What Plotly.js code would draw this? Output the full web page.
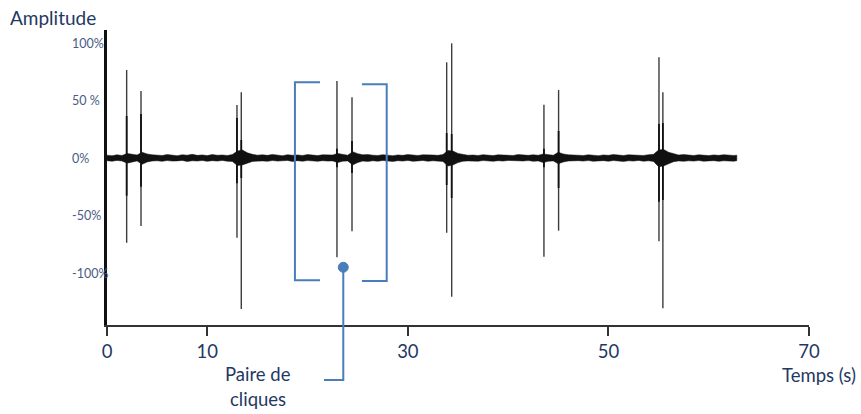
<!DOCTYPE html>
<html>
<head>
<meta charset="utf-8">
<script src="https://cdn.plot.ly/plotly-3.0.1.min.js"></script>
<style>html,body{margin:0;padding:0;background:#fff;}#chart{width:861px;height:414px;}</style>
</head>
<body>
<div id="chart"></div>
<script>
// ---- Data ----
// Click spikes: time (s), positive peak (%), negative peak (%)
const spikeTime = [1.96, 3.39, 12.96, 13.39, 22.93, 24.43, 33.87, 34.37, 43.57, 45.03, 55.04, 55.43];
const spikeMax  = [76.5, 58.3, 46.1, 57.1, 67.0, 52.8, 83.2, 99.7, 46.3, 59.1, 87.6, 57.1];
const spikeMin  = [-73.7, -59.1, -69.3, -131.3, -86.3, -63.7, -65.0, -120.6, -85.8, -63.2, -72.4, -130.7];
// Darker inner core of each click
const coreMax = [36.5, 38.3, 34.8, 15.7, 8.0, 14.8, 21.7, 20.9, 8.0, 23.5, 29.6, 30.4];
const coreMin = [-32.8, -25.0, -22.0, -17.4, -8.0, -13.0, -23.5, -34.8, -8.0, -26.1, -38.0, -36.5];

// Background noise envelope (time in s, upper and lower envelope in %)
const noiseT = [0,0.5,1,1.5,2,2.5,3,3.5,4,4.5,5,5.5,6,6.5,7,7.5,8,8.5,9,9.5,
  10,10.5,11,11.5,12,12.5,13,13.5,14,14.5,15,15.5,16,16.5,17,17.5,18,18.5,19,19.5,
  20,20.5,21,21.5,22,22.5,23,23.5,24,24.5,25,25.5,26,26.5,27,27.5,28,28.5,29,29.5,
  30,30.5,31,31.5,32,32.5,33,33.5,34,34.5,35,35.5,36,36.5,37,37.5,38,38.5,39,39.5,
  40,40.5,41,41.5,42,42.5,43,43.5,44,44.5,45,45.5,46,46.5,47,47.5,48,48.5,49,49.5,
  50,50.5,51,51.5,52,52.5,53,53.5,54,54.5,55,55.5,56,56.5,57,57.5,58,58.5,59,59.5,
  60,60.5,61,61.5,62,62.5,62.8];
const noiseHi = [2.5,2.0,2.8,2.2,4.0,3.0,2.6,5.0,3.5,2.8,
  2.6,2.2,3.0,2.4,2.0,2.8,2.5,3.2,2.3,2.7,
  2.1,3.0,2.4,2.6,2.2,3.0,6.0,7.0,4.5,3.2,
  2.5,2.8,2.3,3.1,2.5,2.0,2.9,2.4,2.7,2.2,
  3.0,2.5,2.1,2.8,2.4,2.6,4.0,3.0,2.4,5.5,
  3.8,2.8,3.0,2.5,2.2,2.9,2.4,2.0,2.7,2.3,
  3.0,2.5,2.2,2.8,2.4,2.6,2.3,3.0,6.5,6.0,
  4.0,3.0,2.4,2.6,2.2,2.9,2.5,2.1,2.8,2.4,
  2.6,2.2,3.0,2.5,2.3,2.8,2.4,3.5,2.8,2.4,
  5.0,3.5,2.8,2.4,2.5,2.2,2.8,2.4,2.0,2.7,
  2.3,3.0,2.5,2.2,2.8,2.4,2.6,2.2,2.9,3.2,
  7.0,7.5,5.0,3.5,2.6,3.0,2.5,2.2,2.8,2.4,
  2.1,2.7,2.3,2.9,2.4,2.2,2.5];
const noiseLo = [-2.3,-2.8,-2.1,-2.6,-4.5,-3.2,-2.5,-5.5,-3.5,-2.6,
  -2.4,-2.9,-2.2,-2.7,-2.5,-2.1,-3.0,-2.4,-2.6,-2.2,
  -2.9,-2.3,-2.7,-2.1,-2.8,-3.0,-6.5,-6.0,-4.5,-3.0,
  -2.5,-2.5,-2.9,-2.2,-2.7,-2.4,-2.1,-3.0,-2.3,-2.8,
  -2.2,-2.6,-2.9,-2.3,-2.7,-2.5,-4.0,-2.8,-2.5,-6.0,
  -4.0,-2.7,-3.0,-2.4,-2.8,-2.2,-2.6,-3.0,-2.3,-2.7,
  -2.1,-2.9,-2.5,-2.2,-2.8,-2.4,-2.6,-3.0,-7.0,-6.0,
  -4.0,-2.8,-2.5,-2.4,-2.8,-2.2,-2.6,-2.9,-2.3,-2.7,
  -2.1,-2.8,-2.4,-2.6,-2.2,-2.9,-2.5,-4.0,-2.9,-2.5,
  -5.0,-3.5,-2.6,-2.2,-2.3,-2.7,-2.2,-2.9,-2.5,-2.3,
  -2.8,-2.2,-2.6,-3.0,-2.4,-2.7,-2.1,-2.8,-2.4,-3.0,
  -7.5,-7.0,-5.0,-3.2,-2.5,-2.9,-2.4,-2.7,-2.2,-2.8,
  -2.5,-2.3,-2.9,-2.4,-2.6,-2.8,-2.3];

// Axis ticks
const xTickVals = [0, 10, 30, 50, 70];
const xTickText = ['0', '10', '30', '50', '70'];
const yTickVals = [100, 50, 0, -50, -100];
const yTickText = ['100%', '50 %', '0%', '-50%', '-100%'];

// ---- Build traces ----
function segs(t, a, b) {
  const xs = [], ys = [];
  for (let i = 0; i < t.length; i++) { xs.push(t[i], t[i], null); ys.push(a[i], b[i], null); }
  return {xs, ys};
}
const main = segs(spikeTime, spikeMax, spikeMin);
const core = segs(spikeTime, coreMax, coreMin);

const bandX = noiseT.concat(noiseT.slice().reverse());
const bandY = noiseHi.concat(noiseLo.slice().reverse());

const NAVY = '#1f3864';
const BLUE = '#4a7ebb';
const FONT = 'Lato, "Open Sans", sans-serif';

const traces = [
  {x: main.xs, y: main.ys, mode: 'lines', line: {color: '#3c3c3c', width: 1.4}, hoverinfo: 'skip', showlegend: false},
  {x: core.xs, y: core.ys, mode: 'lines', line: {color: '#111', width: 1.8}, hoverinfo: 'skip', showlegend: false},
  {x: bandX, y: bandY, mode: 'lines', fill: 'toself', fillcolor: '#111', line: {color: '#111', width: 0.5}, hoverinfo: 'skip', showlegend: false}
];

const annotations = [];
for (let i = 0; i < yTickVals.length; i++) {
  annotations.push({xref: 'paper', yref: 'y', x: -0.0527, y: yTickVals[i], text: yTickText[i],
    xanchor: 'left', yanchor: 'middle', showarrow: false, font: {family: FONT, size: 12.5, color: '#4a5b84'}});
}
annotations.push(
  {xref: 'paper', yref: 'paper', x: -0.141, y: 1.0407, text: 'Amplitude', xanchor: 'left', yanchor: 'middle', showarrow: false, font: {family: FONT, size: 19, color: NAVY}},
  {xref: 'paper', yref: 'paper', x: 1.0698, y: -0.1695, text: 'Temps (s)', xanchor: 'right', yanchor: 'middle', showarrow: false, font: {family: FONT, size: 18.5, color: NAVY}},
  {xref: 'paper', yref: 'paper', x: 0.2151, y: -0.1661, text: 'Paire de', xanchor: 'center', yanchor: 'middle', showarrow: false, font: {family: FONT, size: 18.5, color: NAVY}},
  {xref: 'paper', yref: 'paper', x: 0.2151, y: -0.2508, text: 'cliques', xanchor: 'center', yanchor: 'middle', showarrow: false, font: {family: FONT, size: 18.5, color: NAVY}}
);

const shapes = [
  {type: 'path', xref: 'x', yref: 'y', path: 'M 21.24,65.8 L 18.74,65.8 L 18.74,-106.3 L 21.24,-106.3', line: {color: BLUE, width: 2}},
  {type: 'path', xref: 'x', yref: 'y', path: 'M 25.42,64.1 L 27.89,64.1 L 27.89,-107 L 25.42,-107', line: {color: BLUE, width: 2}},
  {type: 'path', xref: 'paper', yref: 'paper', path: 'M 0.3366,0.1956 L 0.3366,-0.1864 L 0.3091,-0.1864', line: {color: BLUE, width: 2}},
  {type: 'circle', xref: 'x', yref: 'y', xsizemode: 'pixel', ysizemode: 'pixel', xanchor: 23.56, yanchor: -95.0,
    x0: -5, x1: 5, y0: -5, y1: 5, fillcolor: BLUE, line: {color: BLUE, width: 1}}
];

const layout = {
  width: 861, height: 414,
  margin: {l: 107, r: 52, t: 30, b: 89},
  paper_bgcolor: '#fff', plot_bgcolor: '#fff',
  showlegend: false,
  xaxis: {range: [0, 70], showgrid: false, zeroline: false, showline: true, linecolor: '#333', linewidth: 2,
    ticks: 'outside', ticklen: 9, tickwidth: 2, tickcolor: '#333',
    tickmode: 'array', tickvals: xTickVals, ticktext: xTickText,
    tickfont: {family: FONT, size: 18.5, color: NAVY}},
  yaxis: {range: [-145.2, 111.3], showgrid: false, zeroline: false, showline: true, linecolor: '#111', linewidth: 3,
    ticks: '', showticklabels: false},
  annotations: annotations,
  shapes: shapes
};

Plotly.newPlot('chart', traces, layout, {staticPlot: true, displayModeBar: false});
</script>
</body>
</html>
